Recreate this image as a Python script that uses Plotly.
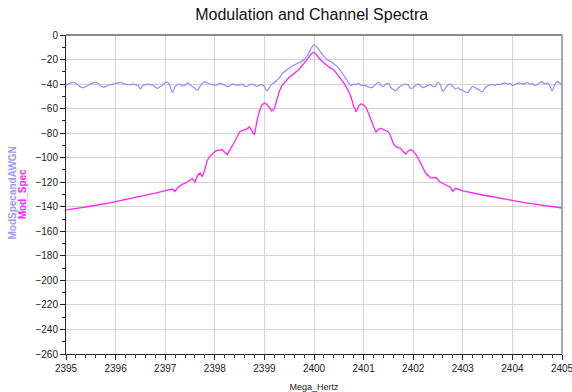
import plotly.graph_objects as go

f_start = 2395.0
f_step = 0.05

mod_spec_awgn = [
    -41, -40, -39, -38.5, -39.5, -41, -42.5, -43, -42, -41, -40, -39, -38.5, -39.5, -41.5, -42.5, -42, -41, -40.5, -40,
    -39.5, -39, -38.5, -39.5, -40, -40.5, -40.5, -40, -40.5, -41, -44, -41, -40.5, -40, -40.5, -41, -42.5, -43.5, -42, -41,
    -39, -38.5, -42, -47, -42, -40.5, -40, -41.5, -41, -39, -40.5, -42, -43.5, -45, -42, -39.5, -38, -39, -40, -40.5,
    -41, -40.5, -39.5, -40, -41, -42, -41.5, -40, -40.5, -41, -40.5, -40, -41.5, -42, -40.5, -40, -41, -42, -41, -40.5,
    -42, -45.5, -43, -40, -39, -37, -35, -32, -30, -28.5, -27, -25.5, -24.5, -23.5, -22.5, -21.5, -20, -17.5, -14, -10.5,
    -8, -9.5, -12, -15, -17.5, -19.5, -21, -22, -23.5, -25, -27.5, -30, -33, -36, -39, -41, -40, -40.5, -39.5, -41,
    -41, -41.5, -42.5, -43, -42, -40, -38.5, -41, -42, -40, -39.5, -43, -44.5, -45.5, -43, -41.5, -40.5, -40, -41, -43.5,
    -43, -41, -40, -41.5, -43, -42, -41, -40.5, -42, -41.5, -38.5, -41, -46, -43, -41, -40, -42, -44, -43, -44.5,
    -45, -46.5, -47, -44, -42, -43, -44, -45.5, -46, -43, -41.5, -40.5, -40.5, -41, -40, -40.5, -39.5, -39, -40, -39.5,
    -41, -40.5, -39.5, -39, -40, -39.5, -38.5, -40, -39.5, -41, -40.5, -39, -38, -40, -39, -41, -45.5, -41, -38, -39,
    -41,
]

mod_spec = [
    -142.5, -142.3, -142.0, -141.7, -141.4, -141.1, -140.8, -140.5, -140.2, -139.9, -139.5, -139.2, -138.9, -138.5, -138.2, -137.8, -137.5, -137.1, -136.7, -136.3,
    -135.9, -135.5, -135.1, -134.7, -134.3, -133.9, -133.5, -133.1, -132.6, -132.2, -131.7, -131.2, -130.8, -130.3, -129.8, -129.3, -128.8, -128.3, -127.8, -127.3,
    -126.7, -126.2, -125.6, -125.5, -127.5, -124.5, -123, -121.5, -121, -119.5, -118.5, -117, -120, -114.5, -112.5, -115.5, -109.5, -102, -99, -97,
    -95, -94, -93.5, -93.5, -95.5, -97.5, -94, -91, -87, -83, -79, -78, -77.5, -76.5, -75, -78.5, -81.5, -70, -62, -57,
    -55.5, -56.5, -59.5, -62, -60, -53, -46, -41.5, -39, -36.5, -34.5, -33, -31, -29.5, -28, -25, -23, -20.5, -17.5, -15,
    -14, -16, -19, -21, -23, -24.5, -26, -27.5, -28.5, -31, -33.5, -36, -39, -42.5, -46, -51, -58, -62.5, -58, -56,
    -57, -59, -63.5, -69, -74.5, -79, -77, -76, -77, -78, -79, -83, -88.5, -91, -91.5, -92.5, -95, -97, -94.5, -93.5,
    -94.5, -97, -100.5, -104.5, -109, -112.5, -114.5, -116.5, -116.5, -116, -118, -120, -121, -122, -122.5, -124, -127.5, -125, -125.5, -126.5,
    -127, -127.5, -128, -128.4, -128.8, -129.2, -129.6, -130, -130.4, -130.8, -131.2, -131.6, -132, -132.4, -132.8, -133.2, -133.6, -134, -134.4, -134.8,
    -135.2, -135.5, -135.8, -136.1, -136.4, -136.7, -137, -137.3, -137.6, -137.9, -138.2, -138.5, -138.8, -139.1, -139.4, -139.7, -140, -140.2, -140.5, -140.7,
    -141,
]

freq = [round(f_start + i * f_step, 4) for i in range(len(mod_spec))]

fig = go.Figure()
fig.add_trace(go.Scatter(x=freq, y=mod_spec_awgn, mode="lines", name="ModSpecandAWGN",
                         line=dict(color="#8c8cff", width=1.2), line_shape="spline"))
fig.add_trace(go.Scatter(x=freq, y=mod_spec, mode="lines", name="Mod_Spec",
                         line=dict(color="#ff22ff", width=1.3)))

font_family = "Liberation Sans, Arial, sans-serif"

fig.update_layout(
    width=572, height=392,
    margin=dict(l=66, r=10, t=35, b=38, autoexpand=False),
    paper_bgcolor="white", plot_bgcolor="white",
    showlegend=False,
    font=dict(family=font_family, size=10, color="#222"),
    title=dict(text="Modulation and Channel Spectra", x=0.545, xanchor="center",
               y=0.962, yanchor="middle",
               font=dict(family=font_family, size=16, color="#111")),
    xaxis=dict(range=[2395, 2405], dtick=1, tick0=2395, showgrid=True,
               gridcolor="#d4d4d4", gridwidth=1, automargin=False,
               showline=True, linecolor="#222", linewidth=1,
               ticks="outside", ticklen=5, tickcolor="#222",
               ticklabeloverflow="allow",
               minor=dict(dtick=0.2, ticks="outside", ticklen=3, tickcolor="#222", showgrid=False),
               zeroline=False, tickformat="d",
               title=dict(text="Mega_Hertz", font=dict(size=9, color="#222"), standoff=12)),
    yaxis=dict(range=[-260, 0], dtick=20, tick0=0, showgrid=True,
               gridcolor="#d4d4d4", gridwidth=1, automargin=False,
               showline=True, linecolor="#222", linewidth=1,
               ticks="outside", ticklen=5, tickcolor="#222",
               minor=dict(dtick=10, ticks="outside", ticklen=3, tickcolor="#222", showgrid=False),
               zeroline=False),
)

fig.add_shape(type="line", xref="paper", yref="paper", x0=0, x1=1, y0=1, y1=1,
              line=dict(color="#8a8a8a", width=2))
fig.add_shape(type="line", xref="paper", yref="paper", x0=1, x1=1, y0=0, y1=1,
              line=dict(color="#8a8a8a", width=1.5))

fig.add_annotation(text="<b>ModSpecandAWGN</b>", xref="paper", yref="paper",
                   x=-0.107, xanchor="center", y=0.506, yanchor="middle",
                   textangle=-90, showarrow=False,
                   font=dict(family=font_family, size=10, color="#9a9aff"))
fig.add_annotation(text="<b>Mod_Spec</b>", xref="paper", yref="paper",
                   x=-0.087, xanchor="center", y=0.5, yanchor="middle",
                   textangle=-90, showarrow=False,
                   font=dict(family=font_family, size=10, color="#ff22ff"))

fig.write_html("out.html")
